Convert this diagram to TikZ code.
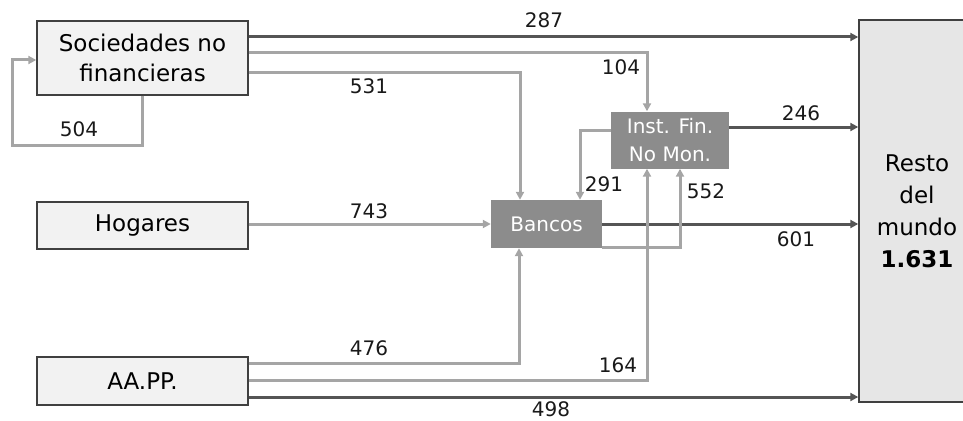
\documentclass[tikz,border=0pt]{standalone}
\usepackage{fontspec}
\setmainfont{DejaVu Sans}
\usetikzlibrary{arrows.meta,positioning,calc}
\definecolor{boxfill}{RGB}{242,242,242}
\definecolor{restofill}{RGB}{230,230,230}
\definecolor{darkbox}{RGB}{140,140,140}
\definecolor{lightline}{RGB}{165,165,165}
\definecolor{darkline}{RGB}{85,85,85}
\definecolor{border}{RGB}{64,64,64}
\begin{document}
\begin{tikzpicture}[x=1pt,y=-1pt]

		\tikzset{line/.style={draw,line width=3pt}}
		\tikzset{gline/.style={line,lightline,-{Triangle[length=8pt,width=8pt]}}}
		\tikzset{dline/.style={line,darkline,-{Triangle[length=8pt,width=8pt]}}}
		\tikzset{sector/.style={draw=border,fill=boxfill,line width=1.4pt,minimum width=211pt,inner sep=0pt,align=center,font=\fontsize{23}{30}\selectfont}}
		\tikzset{bank/.style={fill=darkbox,text=white,inner sep=0pt,align=center,font=\fontsize{20}{28}\selectfont}}
		\tikzset{num/.style={inner sep=0pt,text=black!90,font=\fontsize{20}{24}\selectfont}}

		\useasboundingbox (0,0) rectangle (963,420);

		% sectors
		\node[sector, minimum height=74pt] (soc) at (142.5,58) {Sociedades no\\financieras};
		\node[sector, minimum height=47pt] (hog) at (142.5,225.5) {Hogares};
		\node[sector, minimum height=48pt] (aapp) at (142.5,381) {AA.PP.};

		% financial institutions
		\node[bank, minimum width=111pt, minimum height=48pt] (banc) at (546.5,224) {Bancos};
		\node[bank, minimum width=118pt, minimum height=57pt] (inst) at (670,140) {Inst. Fin.\\No Mon.};

		% rest of the world
		\node[draw=border, fill=restofill, line width=1.4pt, minimum width=116pt, minimum height=382pt,
			inner sep=0pt, align=center, font=\fontsize{23}{32}\selectfont] (resto) at (917,211)
			{Resto\\del\\mundo\\\textbf{1.631}};

		\coordinate (loop) at (12,145);

		\path[gline] (soc.south) |- (loop) |- ([yshift=-2pt]soc.west);
		\path[dline] (soc.east |- 0,37) -- (resto.west |- 0,37);
		\path[gline] (soc.east |- 0,53) -| ([xshift=-23pt]inst.north);
		\path[gline] (soc.east |- 0,72) -| ([xshift=-26.5pt]banc.north);

		\path[gline] (hog.east |- banc.west) -- (banc.west);
		\path[dline] (banc.east) -- (resto.west |- banc.east);
		\path[gline] ([yshift=-23pt]banc.east) -| ([xshift=10pt]inst.south);
		\path[gline] ([yshift=10pt]inst.west) -| ([xshift=33.5pt]banc.north);
		\path[dline] ([yshift=13pt]inst.east) -- (resto.west |- 0,127);

		\path[gline] (aapp.east |- 0,363) -| ([xshift=-27.5pt]banc.south);
		\path[gline] (aapp.east |- 0,380) -| ([xshift=-23pt]inst.south);
		\path[dline] (aapp.east |- 0,397) -- (resto.west |- 0,397);

		% flows
		\node[num] (n287) at (544,20) {287};
		\node[num] (n104) at (621,67) {104};
		\node[num] (n531) at (369,86) {531};
		\node[num] (n504) at (79,129) {504};
		\node[num] (n743) at (369,211) {743};
		\node[num] (n476) at (369,348) {476};
		\node[num] (n246) at (801,113) {246};
		\node[num] (n291) at (604,184) {291};
		\node[num] (n552) at (706,191) {552};
		\node[num] (n601) at (796,239) {601};
		\node[num] (n164) at (618,365) {164};
		\node[num] (n498) at (551,409) {498};

	\end{tikzpicture}
\end{document}
